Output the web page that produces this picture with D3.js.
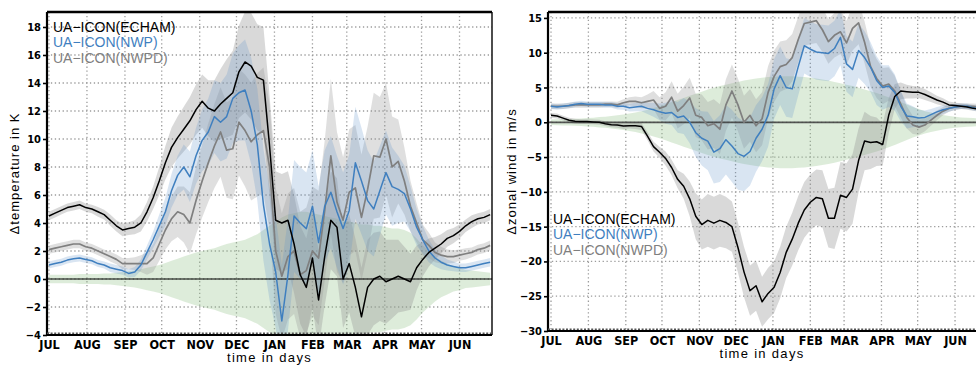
<!DOCTYPE html>
<html>
<head>
<meta charset="utf-8">
<script src="https://cdn.jsdelivr.net/npm/d3@7"></script>
<style>
  body { margin: 0; background: #fff; }
  svg { display: block; }
</style>
</head>
<body>
<svg id="chart" width="976" height="367"></svg>
<script>
// Day of the season (0 = 1 July), sampled every 5 days
const days = [0,5,10,15,20,25,30,35,40,45,50,55,60,65,70,75,80,85,90,95,100,105,110,115,120,125,130,135,140,145,
  150,155,160,165,170,175,180,185,190,195,200,205,210,215,220,225,230,235,240,245,250,255,260,265,270,275,280,285,290,295,
  300,305,310,315,320,325,330,335,340,345,350,355,360];

const monthStarts = [0,31,62,92,123,153,184,215,243,274,304,335];
const monthLabels = ["JUL","AUG","SEP","OCT","NOV","DEC","JAN","FEB","MAR","APR","MAY","JUN"];
const seriesNames = ["UA\u2212ICON(ECHAM)","UA\u2212ICON(NWP)","UA\u2212ICON(NWPD)"];

const tempTicks = [-4,-2,0,2,4,6,8,10,12,14,16,18];
const windTicks = [-30,-25,-20,-15,-10,-5,0,5,10,15];

// Temperature difference (K): ensemble means
const tempEcham = [4.5,4.7,4.9,5.1,5.2,5.3,5.1,5.0,4.8,4.6, 4.2,3.8,3.5,3.6,3.7,4.0,4.8,5.8,7.0,8.3,
  9.4,10.1,10.7,11.3,12.1,12.7,12.2,12.0,12.5,12.9, 13.3,14.8,15.5,15.2,14.4,14.2,9.5,4.2,4.0,4.2,
  2.5,0.3,-0.6,1.5,-1.5,1.6,4.2,3.7,0.0,1.1, -0.6,-2.7,-0.6,0.0,0.2,-0.2,0.0,0.2,0.0,-0.2,
  0.8,1.4,1.9,2.2,2.5,2.9,3.1,3.4,3.8,4.1, 4.3,4.4,4.6];
const tempNwp = [1.0,1.1,1.2,1.35,1.45,1.5,1.4,1.3,1.1,1.0, 0.8,0.7,0.6,0.4,0.5,1.0,1.9,2.8,3.8,4.8,
  6.3,7.4,8.0,7.3,8.8,9.9,10.5,11.6,11.2,11.6, 12.9,13.3,13.5,12.0,9.6,5.3,2.5,0.5,-3.0,0.3,
  4.5,4.0,3.6,5.2,2.6,5.2,6.2,4.8,3.6,4.9, 8.3,7.0,5.6,5.0,6.3,7.6,6.6,6.4,6.1,5.0,
  3.7,2.8,2.0,1.5,1.2,1.0,0.9,0.8,0.8,0.9, 1.0,1.1,1.2];
const tempNwpd = [2.1,2.2,2.3,2.4,2.5,2.5,2.3,2.2,2.0,1.8, 1.6,1.4,1.1,1.1,1.1,1.1,1.1,1.5,2.5,3.5,
  4.3,4.8,4.6,4.0,5.6,7.0,8.3,9.5,10.5,9.2, 9.3,11.2,10.6,9.8,10.3,10.6,8.0,2.0,0.2,1.6,
  2.0,0.3,0.6,2.0,1.5,4.9,8.8,5.5,4.2,6.2, 6.5,4.4,6.4,8.8,8.7,10.0,8.0,8.4,7.0,5.2,
  4.0,2.8,2.4,1.9,1.7,1.6,1.6,1.7,1.8,1.9, 2.1,2.2,2.4];
// Temperature: ensemble spread (half width of the shaded bands)
const tempEchamSpread = [0.3,0.3,0.3,0.3,0.3,0.3,0.3,0.3,0.35,0.35, 0.4,0.4,0.45,0.45,0.5,0.6,0.7,0.8,1.0,1.2,
  1.4,1.5,1.6,1.7,1.8,1.9,2.0,2.2,2.5,2.8, 3.0,3.3,3.6,3.8,3.8,3.8,3.6,3.5,3.5,3.5,
  3.5,3.5,3.5,3.5,3.5,3.5,3.5,3.5,3.5,3.5, 3.5,3.5,3.4,3.3,3.2,3.0,2.8,2.6,2.3,2.0,
  1.6,1.2,1.0,0.8,0.7,0.6,0.55,0.5,0.45,0.45, 0.4,0.4,0.4];
const tempNwpSpread = [0.25,0.25,0.25,0.25,0.25,0.25,0.25,0.25,0.25,0.25, 0.3,0.3,0.3,0.3,0.35,0.4,0.5,0.6,0.8,1.0,
  1.2,1.4,1.6,1.8,2.0,2.2,2.4,2.6,2.8,3.0, 3.2,3.4,3.6,3.8,4.0,4.0,4.0,4.0,4.0,4.0,
  4.0,4.0,4.0,4.0,4.0,4.0,4.0,4.0,4.0,4.0, 4.0,3.8,3.6,3.4,3.2,3.0,2.8,2.4,2.0,1.6,
  1.3,1.0,0.8,0.6,0.5,0.4,0.35,0.3,0.3,0.3, 0.3,0.3,0.3];
const tempNwpdSpread = [0.3,0.3,0.3,0.3,0.3,0.3,0.3,0.3,0.3,0.3, 0.35,0.35,0.4,0.4,0.45,0.6,0.8,1.0,1.2,1.4,
  1.6,1.8,2.0,2.2,2.4,2.6,2.8,3.0,3.2,3.4, 3.6,3.8,4.0,4.2,4.4,4.5,4.5,4.5,4.5,4.5,
  4.5,4.5,4.5,4.6,4.8,5.0,5.5,5.0,4.5,4.5, 4.5,4.5,4.5,4.5,4.3,4.0,3.6,3.0,2.4,1.8,
  1.4,1.1,0.9,0.7,0.6,0.5,0.45,0.4,0.4,0.35, 0.35,0.35,0.35];
// Temperature: natural variability envelope around zero
const tempVariability = [0.3,0.3,0.3,0.3,0.3,0.35,0.35,0.35,0.35,0.4, 0.4,0.45,0.5,0.55,0.6,0.7,0.8,0.9,1.0,1.15,
  1.3,1.45,1.6,1.75,1.9,2.0,2.1,2.2,2.35,2.5, 2.6,2.7,2.8,3.0,3.2,3.5,3.8,4.1,4.4,4.6,
  4.7,4.8,4.8,4.7,4.6,4.5,4.4,4.3,4.2,4.1, 4.0,3.9,3.9,3.8,3.8,3.7,3.6,3.6,3.5,3.3,
  2.9,2.4,2.0,1.6,1.3,1.1,0.9,0.8,0.65,0.6, 0.55,0.5,0.45];

// Zonal wind difference (m/s): ensemble means
const windEcham = [1.0,0.9,0.6,0.3,0.15,0.1,0.1,0.05,0.0,-0.2, -0.35,-0.4,-0.55,-0.5,-0.5,-0.6,-2.0,-3.5,-4.3,-5.2,
  -6.5,-8.2,-9.2,-11.0,-13.5,-14.7,-14.1,-14.5,-14.1,-14.4, -15.0,-18.0,-21.5,-24.2,-23.5,-25.8,-24.6,-23.7,-21.6,-18.7,
  -16.8,-14.5,-12.6,-11.5,-10.8,-11.0,-13.8,-13.8,-10.5,-10.8, -9.6,-5.5,-2.7,-2.9,-2.8,-3.2,1.0,3.7,4.5,4.4,
  4.3,4.3,4.0,3.6,3.2,2.9,2.5,2.4,2.3,2.2, 2.0,1.9,1.8];
const windNwp = [2.3,2.2,2.3,2.4,2.6,2.7,2.6,2.6,2.6,2.5, 2.5,2.3,2.3,2.1,2.2,2.3,2.0,1.8,1.5,1.3,
  1.4,0.7,0.9,0.0,-1.5,-2.3,-2.7,-4.3,-3.8,-2.5, -3.4,-4.5,-4.9,-4.2,-2.3,-1.0,1.0,4.8,6.7,5.0,
  4.8,8.0,11.0,10.5,10.1,10.0,9.9,10.6,12.2,8.4, 7.6,10.3,9.3,7.9,6.0,5.0,5.2,4.3,2.3,0.9,
  0.8,0.6,0.7,1.1,1.5,1.8,2.0,2.2,2.3,2.3, 2.1,2.0,1.9];
const windNwpd = [2.3,2.3,2.3,2.4,2.5,2.5,2.5,2.5,2.5,2.6, 2.6,2.5,2.8,3.0,3.0,2.8,3.0,3.2,2.0,2.3,
  3.6,1.6,2.4,3.5,1.0,0.7,-0.5,-0.2,-1.0,2.5, 4.5,2.5,0.0,1.0,-0.5,0.5,4.3,6.6,8.0,8.3,
  9.3,11.9,14.2,14.4,14.6,13.3,11.6,12.5,13.0,11.4, 13.5,14.3,11.5,8.0,6.3,5.2,5.5,4.5,2.6,0.7,
  -0.4,-0.7,-0.4,0.3,1.0,1.6,2.0,2.2,2.3,2.3, 2.3,2.2,2.1];
// Zonal wind: ensemble spread
const windEchamSpread = [0.35,0.35,0.35,0.35,0.35,0.35,0.35,0.35,0.35,0.35, 0.35,0.4,0.4,0.4,0.45,0.5,0.6,0.7,0.8,1.0,
  1.1,1.3,1.8,2.5,3.3,3.6,3.8,3.8,3.8,3.7, 3.6,3.6,3.6,3.6,3.6,3.6,3.7,3.7,3.7,3.7,
  3.8,3.9,4.0,4.0,4.0,4.1,4.2,4.4,4.8,4.9, 5.0,4.6,4.2,3.8,3.5,3.0,2.5,1.8,1.2,1.0,
  0.9,0.8,0.8,0.7,0.6,0.55,0.5,0.45,0.4,0.4, 0.35,0.35,0.35];
const windNwpSpread = [0.4,0.4,0.4,0.4,0.4,0.4,0.4,0.4,0.4,0.4, 0.4,0.45,0.5,0.55,0.6,0.7,0.8,1.0,1.2,1.5,
  1.8,2.2,2.6,3.0,3.5,3.9,4.2,4.5,4.8,5.0, 5.2,5.2,5.0,4.9,4.8,4.6,4.5,4.3,4.2,4.2,
  4.2,4.1,4.0,4.0,4.0,4.0,4.0,4.0,4.0,4.0, 4.0,3.9,3.8,3.6,3.5,3.2,3.0,2.6,2.2,1.8,
  1.5,1.2,1.0,0.8,0.7,0.6,0.5,0.45,0.4,0.4, 0.4,0.4,0.4];
const windNwpdSpread = [0.4,0.4,0.4,0.4,0.4,0.4,0.4,0.4,0.4,0.4, 0.4,0.45,0.5,0.6,0.7,0.8,1.0,1.3,1.6,2.0,
  2.3,2.5,2.7,2.9,3.1,3.3,3.4,3.5,3.6,3.7, 3.8,3.8,3.8,3.8,3.8,3.8,3.8,3.7,3.6,3.5,
  3.4,3.3,3.2,3.2,3.2,3.2,3.2,3.2,3.2,3.2, 3.2,3.1,3.0,2.9,2.8,2.6,2.4,2.2,1.9,1.6,
  1.3,1.1,0.9,0.8,0.7,0.6,0.5,0.45,0.4,0.4, 0.4,0.4,0.4];
// Zonal wind: natural variability envelope around zero
const windVariability = [0.4,0.42,0.45,0.47,0.5,0.55,0.6,0.65,0.75,0.8, 0.9,1.0,1.1,1.25,1.4,1.6,1.8,2.05,2.3,2.6,
  2.9,3.2,3.5,3.8,4.1,4.4,4.7,4.95,5.2,5.4, 5.6,5.8,6.0,6.15,6.3,6.4,6.5,6.55,6.6,6.6,
  6.6,6.55,6.5,6.4,6.3,6.15,6.0,5.8,5.6,5.4, 5.2,4.95,4.7,4.45,4.2,3.9,3.6,3.25,2.9,2.55,
  2.2,1.9,1.6,1.4,1.2,1.05,0.9,0.8,0.7,0.65, 0.6,0.55,0.5];

const lineColors = ["#000000", "#3f7fbf", "#7f7f7f"];
const bandColors = ["rgba(150,150,150,0.36)", "rgba(95,145,200,0.24)", "rgba(150,150,150,0.30)"];
const variabilityColor = "rgba(150,195,140,0.32)";

const svg = d3.select("#chart");
const tickFont = "'Liberation Sans Narrow','DejaVu Sans Condensed','Arial Narrow',sans-serif";
const textFont = "'Liberation Sans',Arial,Helvetica,sans-serif";

function drawPanel(o) {
  const x = d3.scaleLinear().domain(o.xDomain).range([o.left, o.right]);
  const y = d3.scaleLinear().domain(o.yDomain).range([o.bottom, o.top]);
  const g = svg.append("g");

  const clipId = o.id + "-clip";
  svg.append("clipPath").attr("id", clipId)
    .append("rect")
    .attr("x", o.left).attr("y", o.top)
    .attr("width", o.right - o.left).attr("height", o.bottom - o.top);

  const plot = g.append("g").attr("clip-path", `url(#${clipId})`);

  // dotted grid
  const grid = plot.append("g")
    .attr("stroke", "#9c9c9c").attr("stroke-width", 1.3)
    .attr("stroke-dasharray", "1.3,2.6").attr("fill", "none");
  grid.selectAll(".gx").data(monthStarts).join("line")
    .attr("x1", d => x(d)).attr("x2", d => x(d))
    .attr("y1", o.top).attr("y2", o.bottom);
  grid.selectAll(".gy").data(o.yTicks).join("line")
    .attr("x1", o.left).attr("x2", o.right)
    .attr("y1", d => y(d)).attr("y2", d => y(d));

  const band = (mean, spread) => d3.area()
    .x((d, i) => x(days[i]))
    .y0((d, i) => y(mean ? mean[i] - spread[i] : -spread[i]))
    .y1((d, i) => y(mean ? mean[i] + spread[i] : spread[i]));

  // variability envelope
  plot.append("path").attr("d", band(null, o.variability)(days))
    .attr("fill", variabilityColor);

  // ensemble spread bands
  [0, 2, 1].forEach(k => {
    plot.append("path").attr("d", band(o.means[k], o.spreads[k])(days))
      .attr("fill", bandColors[k]);
  });

  // zero line
  plot.append("line")
    .attr("x1", o.left).attr("x2", o.right)
    .attr("y1", y(0)).attr("y2", y(0))
    .attr("stroke", o.zeroColor).attr("stroke-width", o.zeroWidth);

  // mean curves
  [2, 1, 0].forEach(k => {
    const line = d3.line().x((d, i) => x(days[i])).y(d => y(d));
    plot.append("path").attr("d", line(o.means[k]))
      .attr("fill", "none").attr("stroke", lineColors[k])
      .attr("stroke-width", k === 2 ? 1.7 : 1.5)
      .attr("stroke-linejoin", "round");
  });

  // frame
  g.append("line").attr("x1", o.left).attr("x2", o.right)
    .attr("y1", o.top).attr("y2", o.top)
    .attr("stroke", "#000").attr("stroke-width", 2.6);
  if (o.rightBorder) {
    g.append("line").attr("x1", o.right).attr("x2", o.right)
      .attr("y1", o.top).attr("y2", o.bottom)
      .attr("stroke", "#000").attr("stroke-width", 1.4);
  }

  // y axis
  const ya = g.append("g").attr("transform", `translate(${o.left},0)`)
    .call(d3.axisLeft(y).tickValues(o.yTicks).tickSize(4).tickPadding(2)
      .tickFormat(d => d < 0 ? "\u2212" + Math.abs(d) : String(d)));
  ya.select(".domain").attr("stroke-width", 2.2).attr("d", `M0,${o.top}V${o.bottom}`);
  ya.selectAll(".tick line").attr("stroke-width", 1.6);
  ya.selectAll(".tick text").attr("font-family", tickFont).attr("font-weight", "bold")
    .attr("font-size", 11).attr("fill", "#000");

  // x axis
  const xa = g.append("g").attr("transform", `translate(0,${o.bottom})`)
    .call(d3.axisBottom(x).tickValues(monthStarts).tickSize(0).tickPadding(5)
      .tickFormat((d, i) => monthLabels[i]));
  xa.select(".domain").attr("stroke-width", 2).attr("d", `M${o.left},0H${o.right}`);
  xa.selectAll(".tick text").attr("font-family", tickFont).attr("font-weight", "bold")
    .attr("font-size", 12.5).attr("fill", "#000");
  // minor day marks along the time axis
  g.append("line").attr("x1", o.left).attr("x2", o.right)
    .attr("y1", o.bottom - 1.8).attr("y2", o.bottom - 1.8)
    .attr("stroke", "#555").attr("stroke-width", 1.6)
    .attr("stroke-dasharray", "2,1.6");

  // axis titles
  g.append("text").attr("x", (o.left + Math.min(o.right, 976)) / 2 + o.xTitleShift).attr("y", o.xTitleY)
    .attr("text-anchor", "middle").attr("font-family", textFont).attr("font-size", 13)
    .attr("letter-spacing", 1.3).text("time in days");
  g.append("text")
    .attr("transform", `translate(${o.yTitleX},${(o.top + o.bottom) / 2}) rotate(-90)`)
    .attr("text-anchor", "middle").attr("font-family", textFont).attr("font-size", 13)
    .attr("letter-spacing", 1).text(o.yTitle);

  // legend
  const lg = g.append("g").attr("font-family", textFont).attr("font-size", 14);
  seriesNames.forEach((name, k) => {
    lg.append("text").attr("x", o.legendX).attr("y", o.legendY + k * 15.3)
      .attr("fill", lineColors[k]).text(name);
  });
}

drawPanel({
  id: "temp", left: 47, right: 492, top: 12, bottom: 335,
  xDomain: [-1.6, 361.5], yDomain: [-4, 19.07], yTicks: tempTicks,
  means: [tempEcham, tempNwp, tempNwpd],
  spreads: [tempEchamSpread, tempNwpSpread, tempNwpdSpread],
  variability: tempVariability,
  zeroColor: "#000", zeroWidth: 1.2, rightBorder: true,
  xTitleY: 362, xTitleShift: 0, yTitleX: 19, yTitle: "\u0394temperature in K",
  legendX: 53, legendY: 32
});

drawPanel({
  id: "wind", left: 548, right: 987, top: 12, bottom: 331,
  xDomain: [-2.5, 361.5], yDomain: [-30, 15.85], yTicks: windTicks,
  means: [windEcham, windNwp, windNwpd],
  spreads: [windEchamSpread, windNwpSpread, windNwpdSpread],
  variability: windVariability,
  zeroColor: "rgba(60,60,60,0.85)", zeroWidth: 1.8, rightBorder: false,
  xTitleY: 358, xTitleShift: 0, yTitleX: 516, yTitle: "\u0394zonal wind in m/s",
  legendX: 553, legendY: 224
});
</script>
</body>
</html>
